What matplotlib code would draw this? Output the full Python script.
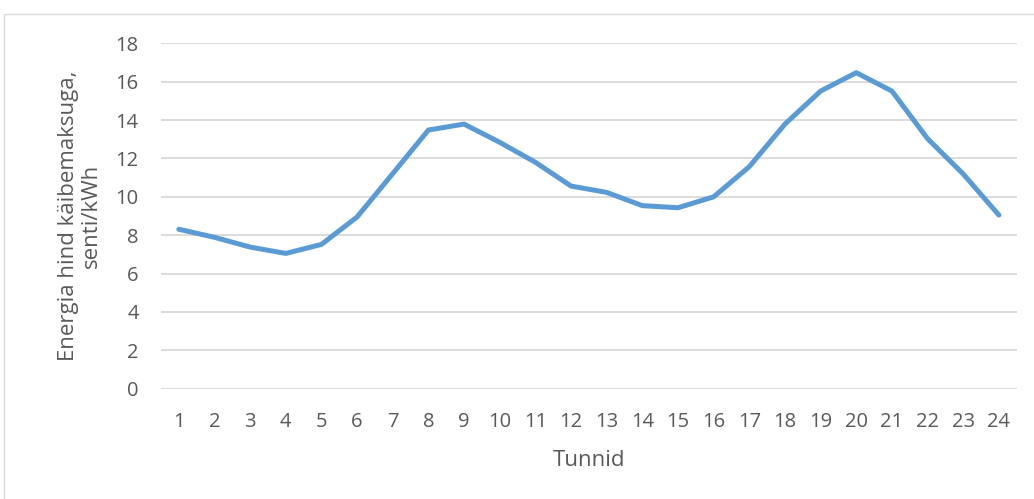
import matplotlib
matplotlib.use("Agg")
import matplotlib.pyplot as plt
from matplotlib.patches import Rectangle

# Hourly energy price including VAT (cents/kWh)
hours = list(range(1, 25))
price = [8.31, 7.89, 7.38, 7.05, 7.52, 8.95, 11.21, 13.48, 13.79, 12.84,
         11.80, 10.56, 10.23, 9.54, 9.43, 10.00, 11.57, 13.79, 15.51, 16.47,
         15.51, 13.03, 11.19, 9.05]
y_ticks = [0, 2, 4, 6, 8, 10, 12, 14, 16, 18]

TEXT = "#595959"
GRID = "#d9d9d9"
LINE = "#5b9bd5"

plt.rcParams["font.family"] = ["Open Sans", "DejaVu Sans"]

fig = plt.figure(figsize=(10.34, 4.99), dpi=100)
W, H = 1034, 499

# outer chart frame
fig.patches.append(Rectangle((4 / W, -0.1), 1.2, 1 - 14 / H + 0.1,
                             transform=fig.transFigure, fill=False,
                             edgecolor=GRID, linewidth=1.0))

ax = fig.add_axes([161 / W, 1 - 388.7 / H, (1016.7 - 161) / W, (388.7 - 43.3) / H])
ax.plot(hours, price, color=LINE, linewidth=3.6, solid_capstyle="round",
        solid_joinstyle="round", zorder=3)

ax.set_xlim(0.5, 24.5)
ax.set_ylim(0, 18)
ax.set_yticks(y_ticks)
ax.set_xticks(hours)
ax.set_xticklabels([str(h) for h in hours])
ax.grid(axis="y", color=GRID, linewidth=1.3)
ax.set_axisbelow(True)
for s in ax.spines.values():
    s.set_visible(False)
ax.tick_params(axis="both", length=0, labelsize=14.5, labelcolor=TEXT)
ax.tick_params(axis="y", pad=16)
ax.tick_params(axis="x", pad=17)

fig.text(589 / W, 1 - 460 / H, "Tunnid", ha="center", va="center",
         fontsize=16, color=TEXT)
fig.text(80 / W, 1 - 216 / H, "Energia hind käibemaksuga,\nsenti/kWh",
         rotation=90, ha="center", va="center", multialignment="center",
         fontsize=16, color=TEXT, linespacing=1.15)

fig.savefig("out.png", dpi=100)
